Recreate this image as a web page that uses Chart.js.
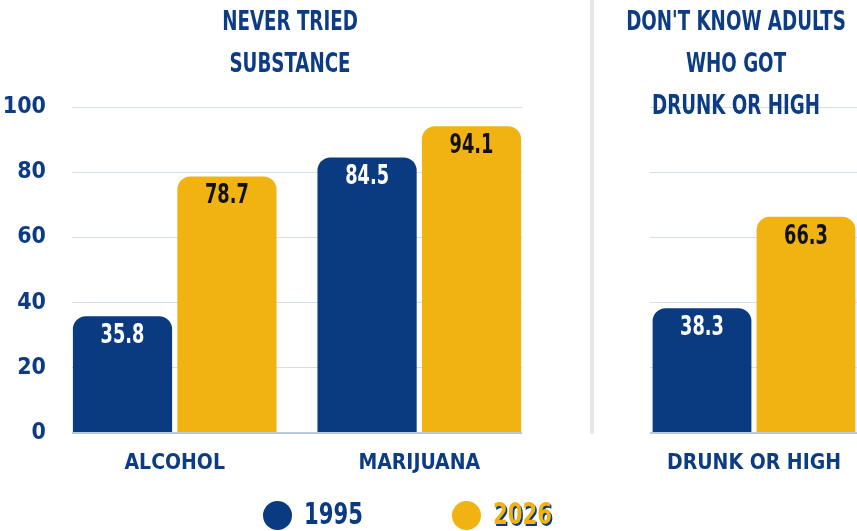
<!DOCTYPE html>
<html>
<head>
<meta charset="utf-8">
<script src="https://cdn.jsdelivr.net/npm/chart.js@4"></script>
<style>
  html, body { margin: 0; padding: 0; background: #fff; }
  body { width: 857px; height: 531px; position: relative; overflow: hidden;
         font-family: 'DejaVu Sans Condensed', 'DejaVu Sans', sans-serif; font-weight: bold; }
  .box { position: absolute; top: 0; height: 531px; }
  .title { position: absolute; top: 0px; width: 300px; text-align: center; color: #0c3c84;
           font-size: 26px; line-height: 42px; white-space: nowrap; transform: scaleX(0.78); }
  .sep { position: absolute; left: 590px; top: 0; width: 4px; height: 434px; background: #e8e8e8; }
  .dot { position: absolute; top: 501px; width: 29px; height: 29px; border-radius: 50%; }
  .lab { position: absolute; top: 495px; font-size: 31px; line-height: 36px; transform: scaleX(0.76); transform-origin: left center; }
</style>
</head>
<body>
<div class="sep"></div>
<div class="box" style="left:0;width:590px"><canvas id="left"></canvas></div>
<div class="box" style="left:597px;width:261px"><canvas id="right"></canvas></div>
<div class="title" style="left:140px">NEVER TRIED<br>SUBSTANCE</div>
<div class="title" style="left:586px">DON'T KNOW ADULTS<br>WHO GOT<br>DRUNK OR HIGH</div>
<div id="legend"></div>
<script>
const seriesLabels = ['1995', '2026'];
const leftCategories = ['ALCOHOL', 'MARIJUANA'];
const left1995 = [35.8, 84.5];
const left2026 = [78.7, 94.1];
const rightCategories = ['DRUNK OR HIGH'];
const right1995 = [38.3];
const right2026 = [66.3];
const yTicks = [0, 20, 40, 60, 80, 100];

const BLUE = '#0a3a80';
const GOLD = '#f0b312';
const TEXT = '#0c3c84';
const colors = [BLUE, GOLD];
const labelColors = ['#ffffff', '#111111'];
const FONT = "'DejaVu Sans Condensed', 'DejaVu Sans', sans-serif";

Chart.defaults.font.family = FONT;
Chart.defaults.font.weight = 'bold';
Chart.defaults.color = TEXT;

// valeurs écrites en haut de chaque barre (police resserrée)
const valueLabels = {
    id: 'valueLabels',
    afterDatasetsDraw(chart) {
        const ctx = chart.ctx;
        chart.data.datasets.forEach((ds, di) => {
            chart.getDatasetMeta(di).data.forEach((bar, i) => {
                const v = ds.data[i];
                const val = typeof v === 'object' ? v.y : v;
                ctx.save();
                ctx.font = 'bold 26px ' + FONT;
                ctx.textAlign = 'center';
                ctx.textBaseline = 'middle';
                ctx.fillStyle = labelColors[di];
                ctx.translate(bar.x, bar.y + 20);
                ctx.scale(0.76, 1);
                ctx.fillText(val.toFixed(1), 0, 0);
                ctx.restore();
            });
        });
    }
};

function gridColor(c) {
    return c.tick.value === 0 ? '#b8c8df' : '#d5dde8';
}

function makeDatasets(series, catPct) {
    return series.map((data, i) => ({
        label: seriesLabels[i],
        data: data,
        backgroundColor: colors[i],
        borderRadius: { topLeft: 13, topRight: 13 },
        borderSkipped: 'start',
        categoryPercentage: catPct,
        barPercentage: 0.95
    }));
}

const yScale = (showTicks) => ({
    min: 0, max: 100,
    afterBuildTicks: s => { s.ticks = yTicks.map(v => ({ value: v })); },
    afterFit: s => { s.width = showTicks ? 72 : 0; },
    border: { display: false },
    grid: { color: gridColor, lineWidth: c => c.tick.value === 0 ? 2 : 1, drawTicks: false },
    ticks: { display: showTicks, padding: 26, color: TEXT, font: { size: 23 } }
});

new Chart(document.getElementById('left'), {
    type: 'bar',
    data: {
        datasets: makeDatasets([left1995, left2026].map(arr => arr.map((v, i) => ({ x: i, y: v }))), 0.854)
    },
    plugins: [valueLabels],
    options: {
        responsive: true,
        maintainAspectRatio: false,
        animation: false,
        layout: { padding: { top: 107, left: 0, right: 68, bottom: 0 } },
        plugins: { legend: { display: false }, tooltip: { enabled: false } },
        scales: {
            x: {
                type: 'linear', min: -0.42, max: 1.42, bounds: 'data', offset: false,
                afterBuildTicks: s => { s.ticks = leftCategories.map((_, i) => ({ value: i })); },
                afterFit: s => { s.height = 98; },
                border: { display: false },
                grid: { display: false, offset: false },
                ticks: { callback: v => leftCategories[v], padding: 10, color: TEXT, font: { size: 21 } }
            },
            y: yScale(true)
        }
    }
});

new Chart(document.getElementById('right'), {
    type: 'bar',
    data: {
        labels: rightCategories,
        datasets: makeDatasets([right1995, right2026], 1.0)
    },
    plugins: [valueLabels],
    options: {
        responsive: true,
        maintainAspectRatio: false,
        animation: false,
        layout: { padding: { top: 107, left: 53, right: 0, bottom: 0 } },
        plugins: { legend: { display: false }, tooltip: { enabled: false } },
        scales: {
            x: {
                afterFit: s => { s.height = 98; },
                border: { display: false },
                grid: { display: false },
                ticks: { padding: 10, color: TEXT, font: { size: 21 } }
            },
            y: yScale(false)
        }
    }
});

// légende
const legend = document.getElementById('legend');
const dotLeft = [263, 452];
seriesLabels.forEach((lab, i) => {
    const dot = document.createElement('div');
    dot.className = 'dot';
    dot.style.left = dotLeft[i] + 'px';
    dot.style.background = colors[i];
    const txt = document.createElement('div');
    txt.className = 'lab';
    txt.style.left = (dotLeft[i] + 41) + 'px';
    txt.style.color = colors[i];
    if (i === 1) txt.style.textShadow = `2px 2px 0 ${BLUE}`;
    txt.textContent = lab;
    legend.appendChild(dot);
    legend.appendChild(txt);
});
</script>
</body>
</html>
